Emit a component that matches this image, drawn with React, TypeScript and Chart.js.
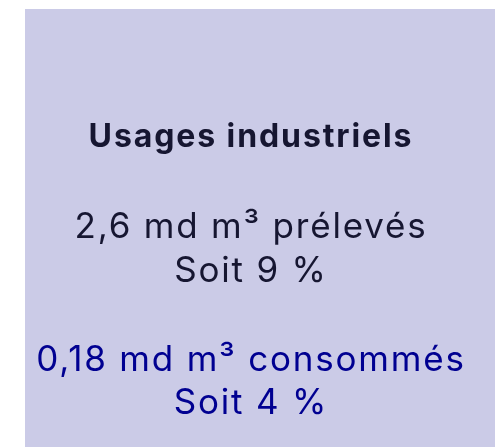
import React, { useEffect, useRef } from "react";
import { Chart, registerables } from "chart.js";

Chart.register(...registerables);

const title = "Usages industriels";
const volumeWithdrawn = 2.6; // md m³
const shareWithdrawn = 9; // %
const volumeConsumed = 0.18; // md m³
const shareConsumed = 4; // %

const fmt = (v: number) => v.toLocaleString("fr-FR");

const FONT = "Inter, 'Noto Sans', sans-serif";

const textPlugin = {
  id: "tileText",
  beforeDraw(chart: any) {
    const ctx = chart.ctx;
    ctx.save();
    ctx.fillStyle = "#cbcbe7";
    ctx.fillRect(25, 9, chart.width - 25, chart.height - 9);
    ctx.restore();
  },
  afterDraw(chart: any) {
    const ctx = chart.ctx;
    const cx = 251;
    const lines: { text: string; y: number; color: string; font: string; ls: string }[] = [
      { text: title, y: 147, color: "#161631", font: `bold 32px ${FONT}`, ls: "1.9px" },
      { text: `${fmt(volumeWithdrawn)} md m³ prélevés`, y: 238, color: "#161631", font: `35px ${FONT}`, ls: "1.8px" },
      { text: `Soit ${fmt(shareWithdrawn)} %`, y: 282, color: "#161631", font: `35px ${FONT}`, ls: "1.8px" },
      { text: `${fmt(volumeConsumed)} md m³ consommés`, y: 371, color: "#000091", font: `35px ${FONT}`, ls: "1.8px" },
      { text: `Soit ${fmt(shareConsumed)} %`, y: 414, color: "#000091", font: `35px ${FONT}`, ls: "1.8px" },
    ];
    ctx.save();
    ctx.textAlign = "center";
    ctx.textBaseline = "alphabetic";
    for (const l of lines) {
      ctx.font = l.font;
      (ctx as any).letterSpacing = l.ls;
      ctx.fillStyle = l.color;
      ctx.fillText(l.text, cx, l.y);
    }
    ctx.restore();
  },
};

export default function App() {
  const ref = useRef<HTMLCanvasElement>(null);
  useEffect(() => {
    document.body.style.margin = "0";
    const chart = new Chart(ref.current!, {
      type: "bar",
      data: {
        labels: ["Prélevés", "Consommés"],
        datasets: [{ data: [], backgroundColor: "transparent" }],
      },
      options: {
        responsive: false,
        animation: false,
        events: [],
        layout: { padding: 0 },
        plugins: { legend: { display: false }, tooltip: { enabled: false }, title: { display: false } },
        scales: { x: { display: false }, y: { display: false } },
      },
      plugins: [textPlugin],
    });
    return () => chart.destroy();
  }, []);
  return (
    <div style={{ width: 495, height: 447 }}>
      <canvas ref={ref} width={495} height={447} style={{ display: "block" }} />
    </div>
  );
}
